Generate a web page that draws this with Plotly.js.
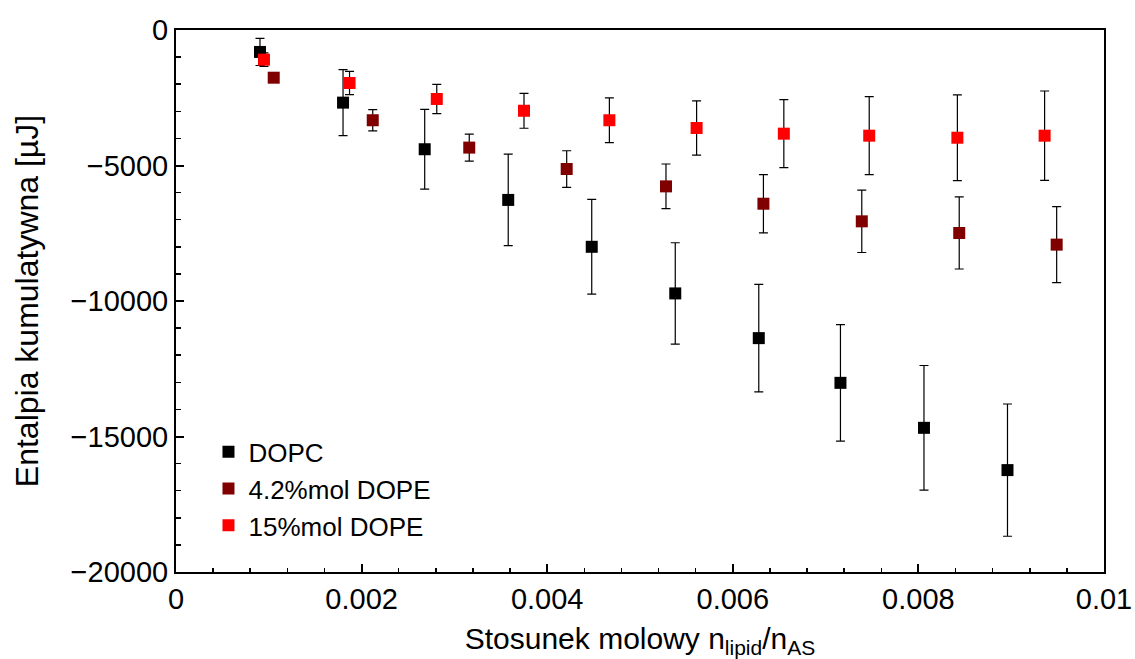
<!DOCTYPE html>
<html>
<head>
<meta charset="utf-8">
<script src="https://cdn.plot.ly/plotly-3.0.1.min.js"></script>
<style>html,body{margin:0;padding:0;background:#fff;}#chart{width:1135px;height:659px;}</style>
</head>
<body>
<div id="chart"></div>
<script>
// DOPC
const dopcX = [0.000905, 0.00180, 0.00268, 0.00358, 0.00448, 0.00538, 0.00628, 0.00716, 0.00806, 0.00896];
const dopcY = [-810, -2680, -4400, -6270, -8000, -9720, -11370, -13020, -14680, -16240];
const dopcErr = [500, 1220, 1470, 1690, 1750, 1870, 1980, 2150, 2300, 2440];
// 4.2%mol DOPE
const dope42X = [0.001053, 0.00212, 0.00316, 0.00421, 0.00528, 0.00633, 0.00739, 0.00844, 0.00949];
const dope42Y = [-1760, -3330, -4340, -5130, -5770, -6410, -7060, -7490, -7920];
const dope42Err = [150, 390, 500, 675, 825, 1075, 1150, 1330, 1400];
// 15%mol DOPE
const dope15X = [0.000948, 0.00187, 0.00281, 0.00375, 0.00467, 0.00561, 0.00655, 0.00747, 0.00842, 0.00936];
const dope15Y = [-1095, -1955, -2545, -2980, -3330, -3615, -3825, -3900, -3975, -3900];
const dope15Err = [250, 430, 540, 645, 825, 1000, 1255, 1440, 1580, 1650];

const names = ['DOPC', '4.2%mol DOPE', '15%mol DOPE'];
const colors = ['#000000', '#800000', '#ff0000'];

function mk(x, y, e, i) {
  return {
    x: x, y: y, type: 'scatter', mode: 'markers', name: names[i],
    marker: {symbol: 'square', size: 12, color: colors[i]},
    error_y: {type: 'data', array: e, visible: true, color: '#000000', thickness: 1.2, width: 4.5}
  };
}

const data = [mk(dopcX, dopcY, dopcErr, 0), mk(dope42X, dope42Y, dope42Err, 1), mk(dope15X, dope15Y, dope15Err, 2)];

const font = 'Liberation Sans, Arial, sans-serif';
const layout = {
  width: 1135, height: 659,
  margin: {l: 176, r: 31, t: 30, b: 87},
  paper_bgcolor: '#fff', plot_bgcolor: '#fff',
  font: {family: font, color: '#000', size: 28},
  showlegend: true,
  legend: {x: 0.035, y: 0.265, xanchor: 'left', yanchor: 'top', bgcolor: 'rgba(0,0,0,0)',
           font: {family: font, size: 26, color: '#000'}, itemsizing: 'constant', tracegroupgap: 0},
  xaxis: {
    range: [0, 0.01], dtick: 0.002, tick0: 0, showgrid: false, zeroline: false,
    showline: true, linecolor: '#000', linewidth: 2, mirror: true,
    ticks: 'inside', ticklen: 8, tickwidth: 2, tickcolor: '#000',
    minor: {dtick: 0.0004, ticks: 'inside', ticklen: 4.5, tickwidth: 1.5, tickcolor: '#000'},
    tickfont: {family: font, size: 29},
    automargin: false,
    title: {text: 'Stosunek molowy n<sub>lipid</sub>/n<sub>AS</sub>', font: {family: font, size: 30}}
  },
  yaxis: {
    range: [-20000, 0], dtick: 5000, tick0: 0, showgrid: false, zeroline: false,
    showline: true, linecolor: '#000', linewidth: 2, mirror: true,
    ticks: 'inside', ticklen: 8, tickwidth: 2, tickcolor: '#000',
    minor: {dtick: 1000, ticks: 'inside', ticklen: 4.5, tickwidth: 1.5, tickcolor: '#000'},
    tickformat: 'd', exponentformat: 'none',
    tickfont: {family: font, size: 29},
    automargin: 'left',
    title: {text: 'Entalpia kumulatywna [µJ]', standoff: 22, font: {family: font, size: 32}}
  }
};

Plotly.newPlot('chart', data, layout, {displayModeBar: false, staticPlot: true});
</script>
</body>
</html>
